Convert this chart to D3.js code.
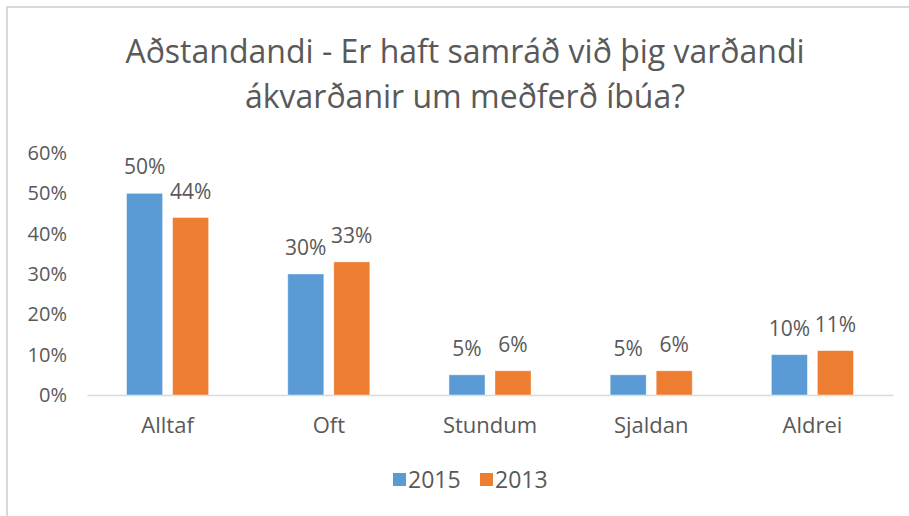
<!DOCTYPE html>
<html>
<head>
<meta charset="utf-8">
<script src="https://cdn.jsdelivr.net/npm/d3@7"></script>
<style>
  html, body { margin: 0; padding: 0; background: #fff; }
  svg { display: block; font-family: "Open Sans", sans-serif; }
</style>
</head>
<body>
<svg id="chart" width="909" height="516"></svg>
<script>
const titleLines = ["Aðstandandi - Er haft samráð við þig varðandi", "ákvarðanir um meðferð íbúa?"];
const categories = ["Alltaf", "Oft", "Stundum", "Sjaldan", "Aldrei"];
const series = ["2015", "2013"];
const values2015 = [0.50, 0.30, 0.05, 0.05, 0.10];
const values2013 = [0.44, 0.33, 0.06, 0.06, 0.11];
const yTicks = [0, 0.1, 0.2, 0.3, 0.4, 0.5, 0.6];
const colors = ["#5B9BD5", "#ED7D31"];

const seriesValues = [values2015, values2013];
const textColor = "#595959";

const svg = d3.select("#chart");

// outer border (chart area frame, extends past right/bottom)
svg.append("rect")
  .attr("x", 7).attr("y", 7).attr("width", 960).attr("height", 560)
  .attr("fill", "none").attr("stroke", "#d9d9d9").attr("stroke-width", 2);

// title
svg.append("g").selectAll("text").data(titleLines).join("text")
  .attr("x", 465).attr("y", (d, i) => 63 + i * 45)
  .attr("text-anchor", "middle")
  .attr("fill", textColor)
  .style("font-size", "32px")
  .text(d => d);

const x0 = d3.scaleBand().domain(categories).range([87, 893]).padding(0);
const x1 = d3.scaleBand().domain(series).range([0, x0.bandwidth()])
  .paddingInner(0.217).paddingOuter(0.86);
const y = d3.scaleLinear().domain([0, 0.6]).range([395, 153]);

// y axis
const yAxis = svg.append("g").attr("transform", "translate(88,0)")
  .call(d3.axisLeft(y).tickValues(yTicks).tickSize(0).tickPadding(21).tickFormat(d3.format(".0%")));
yAxis.select(".domain").remove();
yAxis.selectAll("text").attr("fill", textColor).style("font-size", "20px").style("font-family", "Open Sans");

// x axis
const xAxis = svg.append("g").attr("transform", "translate(0,395)")
  .call(d3.axisBottom(x0).tickSize(0));
xAxis.select(".domain").attr("stroke", "#d9d9d9").attr("stroke-width", 1.3);
xAxis.selectAll("text").attr("y", 38).attr("dy", 0)
  .attr("fill", textColor).style("font-size", "22px").style("font-family", "Open Sans");

// bars
const rows = categories.map((c, i) => ({ cat: c, vals: series.map((s, k) => ({ s, k, v: seriesValues[k][i] })) }));
const groups = svg.append("g").selectAll("g").data(rows).join("g")
  .attr("transform", d => `translate(${x0(d.cat)},0)`);
groups.selectAll("rect").data(d => d.vals).join("rect")
  .attr("x", d => x1(d.s))
  .attr("y", d => y(d.v))
  .attr("width", x1.bandwidth())
  .attr("height", d => y(0) - y(d.v))
  .attr("fill", d => colors[d.k])
  .attr("stroke", "#ffffff").attr("stroke-opacity", 0.5).attr("stroke-width", 0.8);
groups.selectAll("text").data(d => d.vals).join("text")
  .attr("x", d => x1(d.s) + x1.bandwidth() / 2)
  .attr("y", d => y(d.v) - 19)
  .attr("text-anchor", "middle")
  .attr("fill", textColor)
  .style("font-size", "21px")
  .text(d => d3.format(".0%")(d.v));

// legend
const legend = svg.append("g");
const legendX = [393, 480];
series.forEach((s, k) => {
  legend.append("rect").attr("x", legendX[k]).attr("y", 473).attr("width", 13).attr("height", 13).attr("fill", colors[k]);
  legend.append("text").attr("x", legendX[k] + 15).attr("y", 487.5)
    .attr("fill", textColor).style("font-size", "23px").text(s);
});
</script>
</body>
</html>
